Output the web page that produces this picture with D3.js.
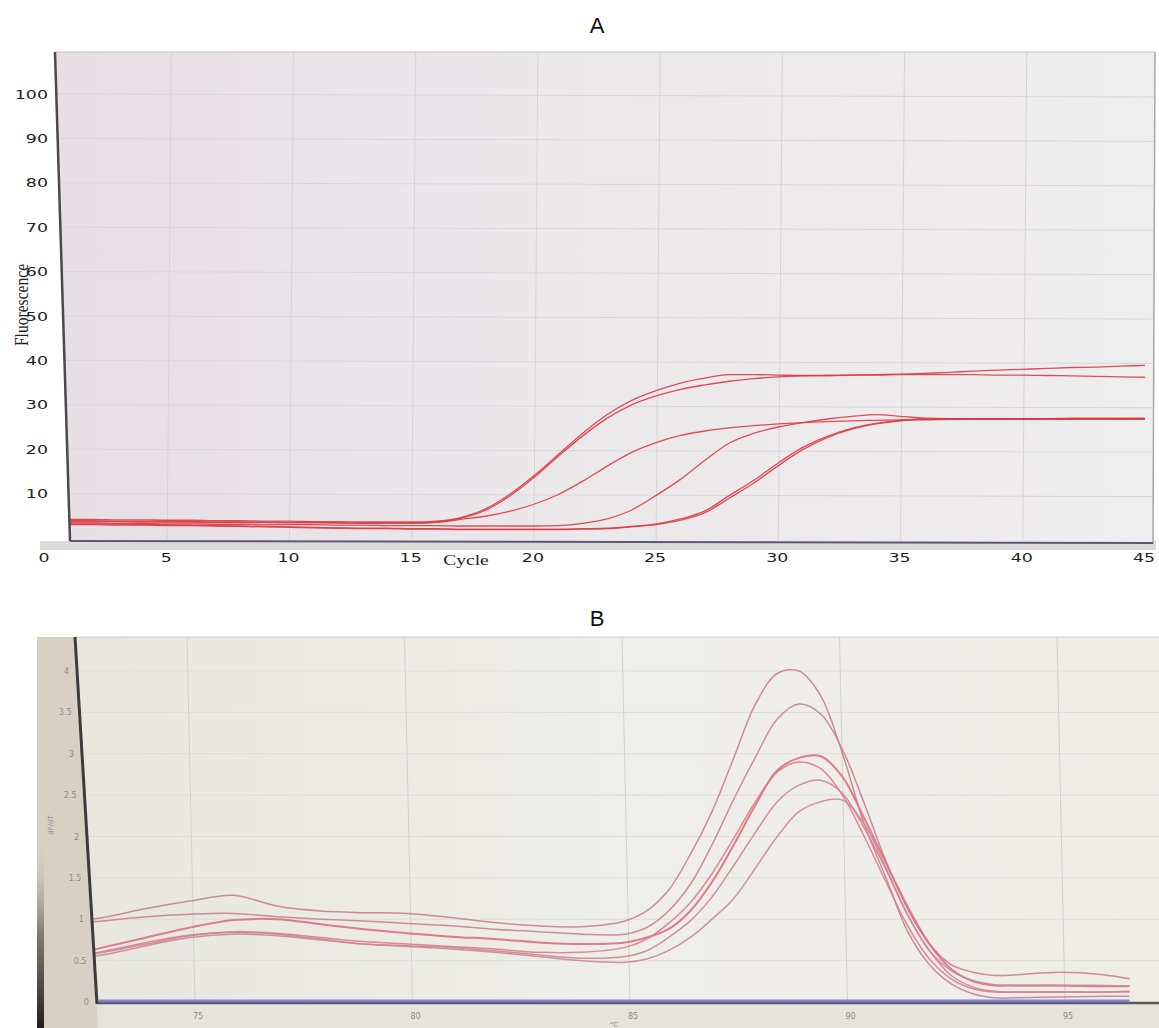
<!DOCTYPE html>
<html>
<head>
<meta charset="utf-8">
<script src="https://cdn.jsdelivr.net/npm/d3@7"></script>
<style>
  body { margin: 0; background: #fff; }
</style>
</head>
<body>
<div id="chart"></div>
<script>
// ---------------- data : panel A (amplification) ----------------
var cycles = [1,2,3,4,5,6,7,8,9,10,11,12,13,14,15,16,17,18,19,20,21,22,23,24,25,26,27,28,29,30,
              31,32,33,34,35,36,37,38,39,40,41,42,43,44,45];

var amp1 = [4.2,4.2,4.1,4.1,4.0,4.0,3.9,3.9,3.8,3.8,3.7,3.7,3.6,3.6,3.6,
            3.8,4.6,6.5,9.8,14.0,18.8,23.6,27.8,31.0,33.2,
            34.9,36.0,36.8,36.8,36.7,36.6,36.6,36.7,36.8,36.9,
            37.1,37.3,37.6,37.8,38.0,38.2,38.4,38.5,38.7,38.9];
var amp2 = [3.9,3.9,3.8,3.8,3.7,3.7,3.6,3.6,3.5,3.5,3.5,3.4,3.4,3.4,3.4,
            3.6,4.4,6.2,9.4,13.6,18.4,23.0,27.0,30.0,32.0,
            33.5,34.5,35.3,35.9,36.3,36.5,36.6,36.7,36.7,36.8,
            36.8,36.8,36.8,36.7,36.7,36.6,36.5,36.4,36.3,36.2];
var amp3 = [3.7,3.7,3.7,3.6,3.6,3.6,3.5,3.5,3.5,3.4,3.4,3.4,3.3,3.3,3.3,
            3.5,4.2,4.9,6.0,7.6,9.8,12.8,16.2,19.3,21.5,
            23.1,24.1,24.8,25.3,25.7,26.0,26.2,26.4,26.5,26.6,
            26.6,26.7,26.7,26.7,26.7,26.8,26.8,26.8,26.8,26.8];
var amp4 = [3.4,3.4,3.3,3.3,3.2,3.2,3.1,3.1,3.0,3.0,3.0,2.9,2.9,2.8,2.8,
            2.8,2.7,2.7,2.7,2.7,2.8,3.3,4.3,6.3,9.6,
            13.2,17.5,21.4,23.6,25.0,26.0,26.8,27.4,27.8,27.4,
            27.0,26.9,26.9,26.9,26.9,26.9,26.9,26.9,26.9,26.9];
var amp5 = [3.2,3.2,3.1,3.0,3.0,2.9,2.8,2.7,2.6,2.5,2.4,2.3,2.2,2.2,2.1,
            2.1,2.0,2.0,2.0,2.0,2.0,2.1,2.2,2.6,3.2,
            4.3,6.1,9.6,13.0,16.9,20.4,22.9,24.7,25.8,26.5,
            26.8,26.9,26.9,26.9,26.9,26.9,27.0,27.0,27.0,27.0];
var amp6 = [3.0,3.0,2.9,2.9,2.8,2.8,2.7,2.6,2.5,2.4,2.3,2.2,2.1,2.1,2.0,
            2.0,1.9,1.9,1.9,1.9,1.9,2.0,2.1,2.5,3.0,
            4.0,5.7,9.0,12.4,16.3,19.9,22.6,24.5,25.7,26.4,
            26.7,26.7,26.8,26.8,26.8,26.8,26.8,26.8,26.8,26.8];
var ampSeries = [amp1, amp2, amp3, amp4, amp5, amp6];

var ampYTicks = [10,20,30,40,50,60,70,80,90,100];
var ampXTicks = [0,5,10,15,20,25,30,35,40,45];
var ampXGrid = [5,10,15,20,25,30,35,40];

// ---------------- data : panel B (melt curve) ----------------
var temps = [72.7,73,74,75,76,77,78,79,80,81,82,83,84,
             85,85.5,86,86.5,87,87.5,88,88.5,89,89.5,90,90.5,91,91.5,92,92.5,93,93.5,
             94,95,96,96.6];

var melt1 = [1.00,1.02,1.13,1.22,1.29,1.16,1.10,1.08,1.07,1.02,0.96,0.92,0.91,
             0.98,1.10,1.35,1.78,2.30,2.95,3.60,3.97,4.00,3.70,3.00,2.15,1.50,0.85,0.45,0.22,0.10,0.05,
             0.05,0.06,0.07,0.07];
var melt2 = [0.97,0.98,1.03,1.06,1.07,1.03,1.00,0.98,0.95,0.92,0.88,0.85,0.82,
             0.82,0.90,1.10,1.42,1.90,2.45,2.96,3.42,3.60,3.48,3.05,2.40,1.70,1.12,0.70,0.45,0.36,0.32,
             0.33,0.36,0.33,0.28];
var melt3 = [0.62,0.66,0.78,0.90,0.99,1.00,0.94,0.88,0.83,0.79,0.76,0.72,0.70,
             0.72,0.78,0.88,1.10,1.45,1.90,2.38,2.80,2.95,2.97,2.72,2.22,1.68,1.15,0.70,0.40,0.25,0.20,
             0.20,0.20,0.19,0.19];
var melt4 = [0.58,0.60,0.70,0.80,0.85,0.83,0.78,0.73,0.70,0.67,0.64,0.60,0.60,
             0.66,0.76,0.95,1.20,1.55,1.98,2.42,2.78,2.90,2.82,2.50,2.00,1.45,0.92,0.52,0.28,0.16,0.12,
             0.12,0.12,0.12,0.13];
var melt5 = [0.58,0.61,0.72,0.81,0.84,0.82,0.76,0.70,0.68,0.66,0.62,0.57,0.53,
             0.55,0.62,0.78,0.98,1.27,1.65,2.05,2.42,2.62,2.68,2.52,2.10,1.60,1.05,0.62,0.32,0.18,0.13,
             0.12,0.12,0.12,0.12];
var melt6 = [0.55,0.57,0.68,0.78,0.82,0.80,0.75,0.70,0.67,0.64,0.60,0.55,0.50,
             0.48,0.52,0.62,0.78,1.00,1.25,1.62,2.00,2.30,2.42,2.44,2.15,1.62,1.05,0.62,0.38,0.26,0.21,
             0.20,0.20,0.20,0.19];
var meltSeries = [melt1, melt2, melt3, melt4, melt5, melt6];
var meltColors = ["#c97f8d", "#c9818e", "#de6f7c", "#e27985", "#cc8591", "#c98893"];

var blankTemps = [72.9, 96.6];
var blankValues = [0, 0];

var meltYTicks = [0,0.5,1,1.5,2,2.5,3,3.5,4];
var meltYLabels = ["0","0.5","1","1.5","2","2.5","3","3.5","4"];
var meltXTicks = [75,80,85,90,95];

// ---------------- svg ----------------
var W = 1159, H = 1028;
var svg = d3.select("#chart").append("svg")
  .attr("width", W).attr("height", H);

var defs = svg.append("defs");

var gA = defs.append("linearGradient").attr("id", "bgA").attr("x1", "0").attr("x2", "1").attr("y1", "0").attr("y2", "0");
gA.append("stop").attr("offset", "0%").attr("stop-color", "#e6dfe4");
gA.append("stop").attr("offset", "45%").attr("stop-color", "#ebe8ea");
gA.append("stop").attr("offset", "100%").attr("stop-color", "#efeeee");

var gB = defs.append("linearGradient").attr("id", "bgB").attr("x1", "0").attr("x2", "1").attr("y1", "0").attr("y2", "0");
gB.append("stop").attr("offset", "0%").attr("stop-color", "#e8e6df");
gB.append("stop").attr("offset", "50%").attr("stop-color", "#eeeeea");
gB.append("stop").attr("offset", "100%").attr("stop-color", "#efede8");

var gDark = defs.append("linearGradient").attr("id", "darkEdge").attr("x1", "0").attr("x2", "0").attr("y1", "0").attr("y2", "1");
gDark.append("stop").attr("offset", "0%").attr("stop-color", "#d6d0c3").attr("stop-opacity", 0);
gDark.append("stop").attr("offset", "50%").attr("stop-color", "#555").attr("stop-opacity", 0.7);
gDark.append("stop").attr("offset", "100%").attr("stop-color", "#1e1e1e").attr("stop-opacity", 1);

// ================= PANEL A =================
var xA = d3.scaleLinear().domain([0, 45]).range([45, 1145]);
var yA = d3.scaleLinear().domain([0, 100]).range([538, 94]);

var frameA = [[55, 52], [1155, 52], [1153, 542], [70, 541]];
defs.append("clipPath").attr("id", "clipA")
  .append("polygon").attr("points", frameA.join(" "));

svg.append("text").attr("x", 597).attr("y", 33)
  .attr("text-anchor", "middle")
  .style("font-family", "Liberation Sans, Arial, sans-serif")
  .style("font-size", "22px").attr("fill", "#111").text("A");

// grey strip under the plot
svg.append("rect").attr("x", 40).attr("y", 541).attr("width", 1116).attr("height", 9)
  .attr("fill", "#dddada");

svg.append("polygon").attr("points", frameA.join(" ")).attr("fill", "url(#bgA)");

var gridA = svg.append("g").attr("clip-path", "url(#clipA)");
gridA.selectAll("line.v").data(ampXGrid).enter().append("line")
  .attr("x1", function(d){ return xA(d); }).attr("x2", function(d){ return xA(d) + 4; })
  .attr("y1", 540).attr("y2", 52)
  .attr("stroke", "#d6d5d9").attr("stroke-width", 1);
gridA.selectAll("line.h").data(ampYTicks).enter().append("line")
  .attr("x1", 50).attr("x2", 1156)
  .attr("y1", function(d){ return yA(d); }).attr("y2", function(d){ return yA(d) + 3; })
  .attr("stroke", "#d8d7db").attr("stroke-width", 1);

var lineA = d3.line()
  .x(function(d, i){ return xA(cycles[i]); })
  .y(function(d){ return yA(d); })
  .curve(d3.curveMonotoneX);

var curvesA = svg.append("g").attr("clip-path", "url(#clipA)");
curvesA.selectAll("path").data(ampSeries).enter().append("path")
  .attr("d", lineA)
  .attr("fill", "none")
  .attr("stroke", "#de3a45")
  .attr("stroke-width", 1.3)
  .attr("stroke-opacity", 0.9);

// frame A
svg.append("line").attr("x1", 55).attr("y1", 52).attr("x2", 1155).attr("y2", 52)
  .attr("stroke", "#c4c2c6").attr("stroke-width", 1);
svg.append("line").attr("x1", 1155).attr("y1", 52).attr("x2", 1153).attr("y2", 544)
  .attr("stroke", "#a8a6aa").attr("stroke-width", 1.5);
svg.append("line").attr("x1", 70).attr("y1", 541).attr("x2", 1153).attr("y2", 543)
  .attr("stroke", "#5c5a72").attr("stroke-width", 2);
svg.append("line").attr("x1", 55).attr("y1", 52).attr("x2", 70).attr("y2", 541)
  .attr("stroke", "#4a4a4e").attr("stroke-width", 2.5);

// tick labels A (wide face)
var tickFont = "DejaVu Sans, Verdana, sans-serif";
svg.append("g").selectAll("text").data(ampYTicks).enter().append("text")
  .attr("transform", function(d){ return "translate(48," + (yA(d) + 4.5) + ") scale(1.45,1)"; })
  .attr("text-anchor", "end")
  .style("font-family", tickFont).style("font-size", "12px")
  .attr("fill", "#222")
  .text(function(d){ return d; });

svg.append("g").selectAll("text").data(ampXTicks).enter().append("text")
  .attr("transform", function(d){ return "translate(" + (xA(d) - 1) + ",562) scale(1.45,1)"; })
  .attr("text-anchor", "middle")
  .style("font-family", tickFont).style("font-size", "12px")
  .attr("fill", "#222")
  .text(function(d){ return d; });

svg.append("text")
  .attr("transform", "translate(466,565) scale(1.3,1)")
  .attr("text-anchor", "middle")
  .style("font-family", "Liberation Serif, Times New Roman, serif")
  .style("font-size", "15px").attr("fill", "#222")
  .text("Cycle");

svg.append("text")
  .attr("transform", "translate(28,305) rotate(-90) scale(0.82,1)")
  .attr("text-anchor", "middle")
  .style("font-family", "Liberation Serif, Times New Roman, serif")
  .style("font-size", "19px").attr("fill", "#222")
  .text("Fluorescence");

// ================= PANEL B =================
var xB = d3.scaleLinear().domain([85, 90]).range([625, 842.5]);
var yB = d3.scaleLinear().domain([0, 4]).range([1002, 671]);

svg.append("text").attr("x", 597).attr("y", 626)
  .attr("text-anchor", "middle")
  .style("font-family", "Liberation Sans, Arial, sans-serif")
  .style("font-size", "22px").attr("fill", "#111").text("B");

// photo surround
svg.append("rect").attr("x", 37).attr("y", 637).attr("width", 1122).attr("height", 391)
  .attr("fill", "#e6e3da");
svg.append("polygon").attr("points", "37,637 76,637 98,1028 37,1028").attr("fill", "#d7d1c3");
svg.append("rect").attr("x", 37).attr("y", 840).attr("width", 7).attr("height", 188)
  .attr("fill", "url(#darkEdge)");

var frameB = [[75, 637], [1159, 637], [1159, 1003], [97, 1003]];
defs.append("clipPath").attr("id", "clipB")
  .append("polygon").attr("points", frameB.join(" "));
svg.append("polygon").attr("points", frameB.join(" ")).attr("fill", "url(#bgB)");

var gridB = svg.append("g").attr("clip-path", "url(#clipB)");
gridB.selectAll("line.v").data(meltXTicks).enter().append("line")
  .attr("x1", function(d){ return xB(d) + 5; }).attr("x2", function(d){ return xB(d) - 3; })
  .attr("y1", 1003).attr("y2", 637)
  .attr("stroke", "#d2d2cf").attr("stroke-width", 1);
gridB.selectAll("line.h").data(meltYTicks.slice(1)).enter().append("line")
  .attr("x1", 70).attr("x2", 1159)
  .attr("y1", function(d){ return yB(d); }).attr("y2", function(d){ return yB(d); })
  .attr("stroke", "#dedddb").attr("stroke-width", 1);

var lineB = d3.line()
  .x(function(d, i){ return xB(temps[i]); })
  .y(function(d){ return yB(d); })
  .curve(d3.curveCatmullRom.alpha(0.5));

var curvesB = svg.append("g").attr("clip-path", "url(#clipB)");
curvesB.selectAll("path").data(meltSeries).enter().append("path")
  .attr("d", lineB)
  .attr("fill", "none")
  .attr("stroke", function(d, i){ return meltColors[i]; })
  .attr("stroke-width", function(d, i){ return i === 2 ? 2 : 1.5; })
  .attr("stroke-opacity", 0.9);

// frame B
svg.append("line").attr("x1", 97).attr("y1", 1003).attr("x2", 1159).attr("y2", 1003)
  .attr("stroke", "#5a5a5a").attr("stroke-width", 2.5);

var blankLine = d3.line()
  .x(function(d, i){ return xB(blankTemps[i]); })
  .y(function(d){ return yB(d) - 1; });
svg.append("path").datum(blankValues)
  .attr("d", blankLine)
  .attr("fill", "none").attr("stroke", "#6f6fd2").attr("stroke-width", 3).attr("stroke-opacity", 0.85);

svg.append("line").attr("x1", 75).attr("y1", 637).attr("x2", 1159).attr("y2", 637)
  .attr("stroke", "#cfcfcc").attr("stroke-width", 1);
svg.append("line").attr("x1", 75).attr("y1", 637).attr("x2", 97).attr("y2", 1004)
  .attr("stroke", "#3c3c3c").attr("stroke-width", 3);

// tick labels B (small, faded)
svg.append("g").selectAll("text").data(meltYTicks).enter().append("text")
  .attr("x", function(d){ return 75 + (yB(d) - 637) * 22 / 366 - 8; })
  .attr("y", function(d){ return yB(d) + 3; })
  .attr("text-anchor", "end")
  .style("font-family", tickFont).style("font-size", "8px")
  .attr("fill", "#8c8c88")
  .text(function(d, i){ return meltYLabels[i]; });

svg.append("g").selectAll("text").data(meltXTicks).enter().append("text")
  .attr("x", function(d){ return xB(d) + 8; })
  .attr("y", 1019)
  .attr("text-anchor", "middle")
  .style("font-family", tickFont).style("font-size", "8px")
  .attr("fill", "#8c8c88")
  .text(function(d){ return d; });

svg.append("text").attr("x", 614).attr("y", 1027)
  .attr("text-anchor", "middle")
  .style("font-family", tickFont).style("font-size", "7px")
  .attr("fill", "#8c8c88").text("°C");

svg.append("text")
  .attr("transform", "translate(53,825) rotate(-90)")
  .attr("text-anchor", "middle")
  .style("font-family", tickFont).style("font-size", "7px")
  .attr("fill", "#8c8c88").text("dF/dT");
</script>
</body>
</html>
